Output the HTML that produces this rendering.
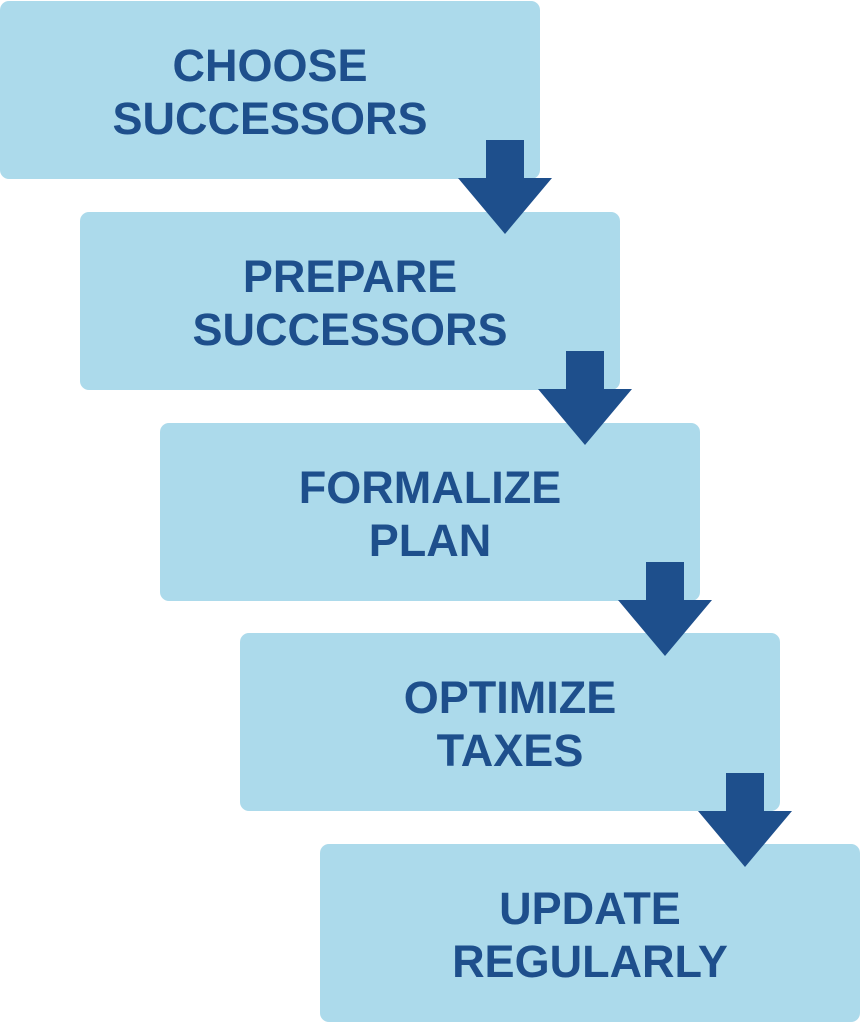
<!DOCTYPE html>
<html><head><style>
body{margin:0;width:861px;height:1024px;background:#fff;position:relative;overflow:hidden;font-family:"Liberation Sans",sans-serif}
.b{position:absolute;width:540px;height:178px;background:#acdaeb;border-radius:9px;display:flex;align-items:center;justify-content:center;text-align:center;color:#1e4f8c;font-weight:bold;font-size:45px;line-height:53px;padding-top:4px;box-sizing:border-box}
svg{position:absolute;left:0;top:0}
</style></head><body>
<div class="b" style="left:0;top:1px">CHOOSE<br>SUCCESSORS</div>
<div class="b" style="left:80px;top:212px">PREPARE<br>SUCCESSORS</div>
<div class="b" style="left:160px;top:423px">FORMALIZE<br>PLAN</div>
<div class="b" style="left:240px;top:633px">OPTIMIZE<br>TAXES</div>
<div class="b" style="left:320px;top:844px">UPDATE<br>REGULARLY</div>
<svg width="861" height="1024">
<g fill="#1e4f8c">
<path id="a" d="M486 140H524V178H552L505 234L458 178H486Z"/>
<use href="#a" transform="translate(80,211)"/>
<use href="#a" transform="translate(160,422)"/>
<use href="#a" transform="translate(240,633)"/>
</g>
</svg>
</body></html>
